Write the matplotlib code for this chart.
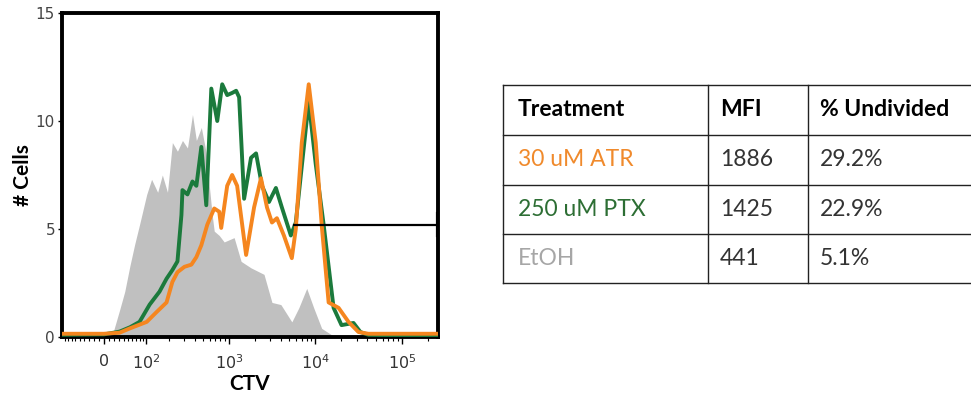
import numpy as np
import matplotlib
matplotlib.use("Agg")
import matplotlib.pyplot as plt

plt.rcParams['font.family'] = ['Lato', 'DejaVu Sans']

# EtOH (filled gray histogram), CTV value vs # cells
etoh_x = [-98, 0, 11.5, 17, 31, 42, 54, 66, 79, 101, 118, 142, 163, 189, 217, 250, 287, 329,
          377, 419, 479, 547, 593, 643, 677, 774, 883, 1152, 1388, 1807, 2553, 3155, 4000,
          5355, 6448, 7963, 9590, 11850, 15450, 18583, 262144]
etoh_y = [0, 0, 0.05, 0.15, 1.25, 2.1, 3.3, 4.3, 5.2, 6.6, 7.3, 6.7, 7.5, 6.7, 9.0, 8.6,
          9.1, 8.75, 10.3, 9.1, 9.7, 8.5, 7.0, 5.6, 4.9, 4.7, 4.4, 4.6, 3.5, 3.2, 2.9, 1.6,
          1.5, 0.7, 1.35, 2.25, 1.35, 0.4, 0.1, 0, 0]

# 250 uM PTX (green)
ptx_x = [-98, 0, 31, 54, 79, 111, 150, 184, 217, 250, 279, 287, 329, 377, 419, 479, 547,
         626, 734, 838, 957, 1093, 1215, 1316, 1503, 1807, 2066, 2418, 2915, 3505, 4107,
         5215, 5952, 6980, 8397, 10120, 12491, 16279, 20100, 27641, 33250, 41100, 262144]
ptx_y = [0.1, 0.12, 0.25, 0.45, 0.7, 1.5, 2.1, 2.7, 3.1, 3.5, 5.65, 6.8, 6.6, 7.2, 7.0,
         8.8, 6.1, 11.5, 10.0, 11.7, 11.2, 11.3, 11.4, 11.1, 6.4, 8.3, 8.5, 7.0, 6.25, 6.9,
         6.0, 4.7, 5.3, 7.9, 10.9, 8.0, 5.2, 1.35, 0.55, 0.65, 0.23, 0.1, 0.05]

# 30 uM ATR (orange)
atr_x = [-98, 0, 31, 54, 101, 137, 184, 217, 250, 303, 366, 419, 479, 562, 677, 774, 816,
         957, 1093, 1248, 1585, 1960, 2356, 2764, 3155, 3600, 4335, 5355, 5952, 6980, 8397,
         10120, 11850, 14263, 18583, 24214, 31558, 41100, 262144]
atr_y = [0.15, 0.15, 0.2, 0.4, 0.7, 1.15, 1.6, 2.55, 3.0, 3.25, 3.35, 3.7, 4.25, 5.2, 5.95,
         5.8, 5.05, 7.0, 7.5, 7.0, 3.8, 6.0, 7.35, 6.0, 5.3, 5.5, 4.7, 3.65, 5.0, 9.0, 11.7,
         9.0, 5.2, 1.6, 1.35, 0.7, 0.23, 0.15, 0.15]

gate_x = [5646, 262144]
gate_y = 5.2

xticks = [0, 1e2, 1e3, 1e4, 1e5]
xticklabels = ['0', '$10^2$', '$10^3$', '$10^4$', '$10^5$']
yticks = [0, 5, 10, 15]

# table contents
tbl_header = ['Treatment', 'MFI', '% Undivided']
tbl_treat = ['30 uM ATR', '250 uM PTX', 'EtOH']
tbl_mfi = ['1886', '1425', '441']
tbl_undiv = ['29.2%', '22.9%', '5.1%']
tbl_colors = ['#f08a2c', '#2d6e34', '#a6a6a6']

C = 72.0


def fwd(x):
    return np.arcsinh(np.asarray(x) / C) / np.log(10)


def inv(y):
    return C * np.sinh(np.asarray(y) * np.log(10))


fig = plt.figure(figsize=(9.71, 3.98), dpi=100)
ax = fig.add_axes([62 / 971, 61 / 398, 376 / 971, 324 / 398])
ax.set_xscale('function', functions=(fwd, inv))

ax.fill_between(etoh_x, etoh_y, color='#c0c0c0', lw=0, zorder=1)
ax.plot(ptx_x, ptx_y, color='#1b7a3c', lw=2.8, zorder=3, solid_joinstyle='round')
ax.plot(atr_x, atr_y, color='#f5861f', lw=2.8, zorder=4, solid_joinstyle='round')
ax.plot(gate_x, [gate_y, gate_y], color='black', lw=1.6, zorder=5)
ax.plot([gate_x[1], gate_x[1]], [gate_y - 0.5, gate_y + 0.5], color='black', lw=3, zorder=5)

ax.set_xlim(-98, 262144)
ax.set_ylim(0, 15)

minor = [-90, -80, -70, -60, -50, -40, -30, -20, -10, 10, 20, 30, 40, 50, 60, 70, 80, 90]
for d in [1e2, 1e3, 1e4]:
    minor += [d * k for k in range(2, 10)]
minor += [2e5]
ax.set_xticks(xticks)
ax.set_xticklabels(xticklabels, fontsize=11.5, color='#333333', family='DejaVu Sans')
ax.set_xticks(minor, minor=True)
ax.set_yticks(yticks)
ax.set_yticklabels([str(v) for v in yticks], fontsize=11, color='#444444', family='DejaVu Sans')
ax.tick_params(axis='x', which='major', length=5, width=1, pad=7)
ax.tick_params(axis='x', which='minor', length=3, width=0.8)
ax.tick_params(axis='y', length=3, width=1, pad=2)

for s in ax.spines.values():
    s.set_linewidth(2.8)
    s.set_color('black')

ax.set_xlabel('CTV', fontsize=15, fontweight='bold', labelpad=1)
ax.set_ylabel('# Cells', fontsize=15, fontweight='bold', labelpad=2)

# table drawn in its own axes, right edge runs past the figure
tx0, tx1 = 503 / 971, 1000 / 971
ty0, ty1 = (398 - 283) / 398, (398 - 85) / 398
tax = fig.add_axes([tx0, ty0, tx1 - tx0, ty1 - ty0])
tax.set_xlim(503, 1000)
tax.set_ylim(283, 85)
tax.axis('off')
col_x = [503, 708, 808, 1000]
row_y = [85, 135, 185, 234, 283]
for yy in row_y:
    tax.plot([col_x[0], col_x[-1]], [yy, yy], color='#222222', lw=1, clip_on=False)
for xx in col_x[:-1]:
    tax.plot([xx, xx], [row_y[0], row_y[-1]], color='#222222', lw=1, clip_on=False)

for j, h in enumerate(tbl_header):
    tax.text(col_x[j] + (15 if j == 0 else 12), (row_y[0] + row_y[1]) / 2, h, fontsize=16.5,
             fontweight='bold', color='black', va='center', ha='left')
for i in range(3):
    yc = (row_y[i + 1] + row_y[i + 2]) / 2
    tax.text(col_x[0] + 15, yc, tbl_treat[i], fontsize=16.5, color=tbl_colors[i], va='center')
    tax.text(col_x[1] + 12, yc, tbl_mfi[i], fontsize=16.5, color='#333333', va='center')
    tax.text(col_x[2] + 12, yc, tbl_undiv[i], fontsize=16.5, color='#333333', va='center')

fig.savefig('out.png', dpi=100)
